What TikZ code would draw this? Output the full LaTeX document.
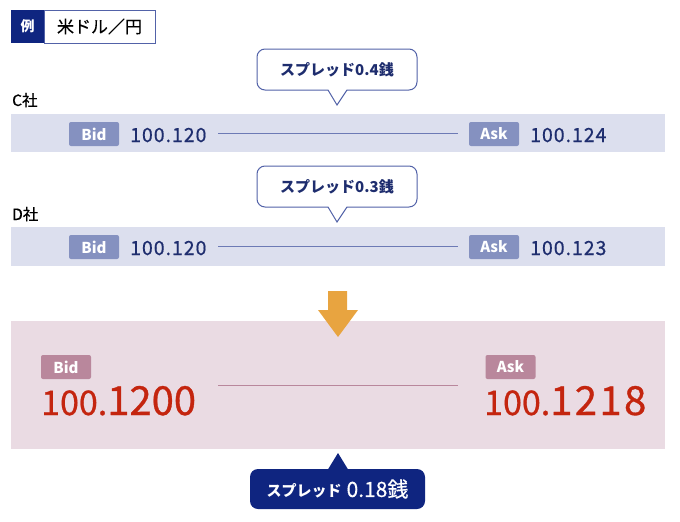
\documentclass[tikz,border=0pt]{standalone}
\usepackage{fontspec}
\setmainfont{Noto Sans CJK JP}
\definecolor{navy}{HTML}{0F2580}
\definecolor{txtnavy}{HTML}{1E2D6E}
\definecolor{band}{HTML}{DCDFEE}
\definecolor{tagblue}{HTML}{8591C0}
\definecolor{lineblue}{HTML}{6D7AB5}
\definecolor{callborder}{HTML}{5262A8}
\definecolor{pinkband}{HTML}{EADBE3}
\definecolor{mauve}{HTML}{B9879C}
\definecolor{redtxt}{HTML}{C4250F}
\definecolor{orange}{HTML}{E8A440}
\begin{document}
\begin{tikzpicture}[x=1pt,y=-1pt,
  bandbox/.style={fill=band,draw=none},
  tagbox/.style={fill=tagblue,rounded corners=2pt,minimum width=50pt,minimum height=24pt,inner sep=0pt,text=white,font=\bfseries\fontsize{15}{15}\selectfont},
  bigtag/.style={fill=mauve,rounded corners=2pt,minimum width=50pt,minimum height=24pt,inner sep=0pt,text=white,font=\bfseries\fontsize{15}{15}\selectfont},
  valtxt/.style={anchor=base west,inner sep=0pt,text=txtnavy,font=\fontsize{19.5}{19.5}\selectfont\addfontfeature{LetterSpace=5,FakeBold=0.6}},
  company/.style={anchor=base west,inner sep=0pt,text=black,font=\fontsize{15.5}{15.5}\selectfont\addfontfeature{FakeBold=0.6}},
  callbox/.style={draw=callborder,line width=1pt,fill=white,rounded corners=8pt,minimum width=160pt,minimum height=41pt,inner sep=0pt,text=txtnavy,font=\bfseries\fontsize{15}{15}\selectfont},
  spreadline/.style={draw=lineblue,line width=0.8pt},
  bigval/.style={anchor=base west,inner sep=0pt,text=redtxt,font=\addfontfeature{FakeBold=0.8}}
]
\useasboundingbox (0,0) rectangle (680,522);
% legend
\node[fill=navy,minimum width=33pt,minimum height=33pt,inner sep=0pt,text=white,font=\bfseries\fontsize{14}{14}\selectfont] (rei) at (27.5,26.5) {例};
\node[draw=callborder,line width=0.8pt,fill=white,minimum width=111pt,minimum height=33pt,inner sep=0pt,font=\fontsize{17}{17}\selectfont\addfontfeature{FakeBold=0.4}] (pair) at (99.5,26.5) {米ドル／円};

% C company
\node[company] (cname) at (12,106) {C社};
\fill[band] (11,114) rectangle (665,152);
\node[tagbox] (bidC) at (94,134) {Bid};
\node[valtxt] (valC) at (130,142) {100.120};
\node[tagbox] (askC) at (494,134) {Ask};
\node[valtxt] (askvalC) at (530,142) {100.124};
\draw[spreadline] (218,133) -- (458,133);
\node[callbox] (callC) at (337,69.5) {スプレッド0.4銭};
\fill[white] (328,89) -- (337,105) -- (347,89) -- cycle;
\draw[callborder,line width=1pt,line join=miter] (328,90) -- (337,105) -- (347,90);

% D company
\node[company] (dname) at (12,220) {D社};
\fill[band] (11,227) rectangle (665,266);
\node[tagbox] (bidD) at (94,247) {Bid};
\node[valtxt] (valD) at (130,255) {100.120};
\node[tagbox] (askD) at (494,247) {Ask};
\node[valtxt] (askvalD) at (530,255) {100.123};
\draw[spreadline] (218,246) -- (458,246);
\node[callbox] (callD) at (337,186.5) {スプレッド0.3銭};
\fill[white] (328,206) -- (337,222) -- (347,206) -- cycle;
\draw[callborder,line width=1pt,line join=miter] (328,207) -- (337,222) -- (347,207);

% result
\fill[pinkband] (11,321) rectangle (665,449);
\node[bigtag] (bidR) at (66,367) {Bid};
\node[bigval] (valR) at (41,415) {{\fontsize{34}{34}\selectfont 100.}{\fontsize{40}{40}\selectfont 1200}};
\node[bigtag] (askR) at (510.5,367) {Ask};
\node[bigval] (askvalR) at (484,415) {{\fontsize{34}{34}\selectfont 100.}{\fontsize{40}{40}\selectfont\addfontfeature{LetterSpace=6}1218}};
\draw[draw=mauve,line width=1pt] (218,385) -- (458,385);

% arrow
\fill[orange] (328,291) -- (347,291) -- (347,310) -- (358,310) -- (338,337) -- (318,310) -- (328,310) -- cycle;

% bottom callout
\fill[navy] (327,471) -- (338,453) -- (349,471) -- cycle;
\node[fill=navy,rounded corners=8pt,minimum width=175pt,minimum height=40pt,inner sep=0pt,text=white] (callR) at (337.5,489) {{\bfseries\fontsize{15}{15}\selectfont スプレッド}\hspace{5pt}{\fontsize{21}{21}\selectfont\addfontfeature{FakeBold=0.4} 0.18銭}};
\end{tikzpicture}
\end{document}
